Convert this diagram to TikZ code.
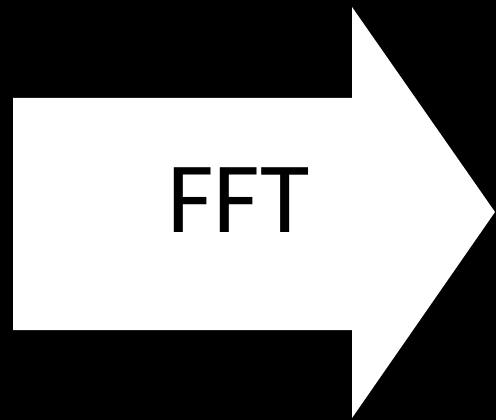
\documentclass[tikz,border=0pt]{standalone}
\usepackage{fontspec}
\setmainfont{Carlito}
\begin{document}
\begin{tikzpicture}[x=1pt,y=-1pt,
  arrowshape/.style={fill=white,draw=none},
  lbl/.style={inner sep=0pt,anchor=base,font=\fontsize{101}{101}\selectfont,text=black}]
\fill[black] (0,0) rectangle (496,420);
\useasboundingbox (0,0) rectangle (496,420);
\fill[arrowshape] (13,98) -- (352,98) -- (352,7) -- (495,212) -- (352,418) -- (352,330) -- (13,330) -- cycle;
\node[lbl] (fft) at (238.5,232) {FFT};
\end{tikzpicture}
\end{document}
